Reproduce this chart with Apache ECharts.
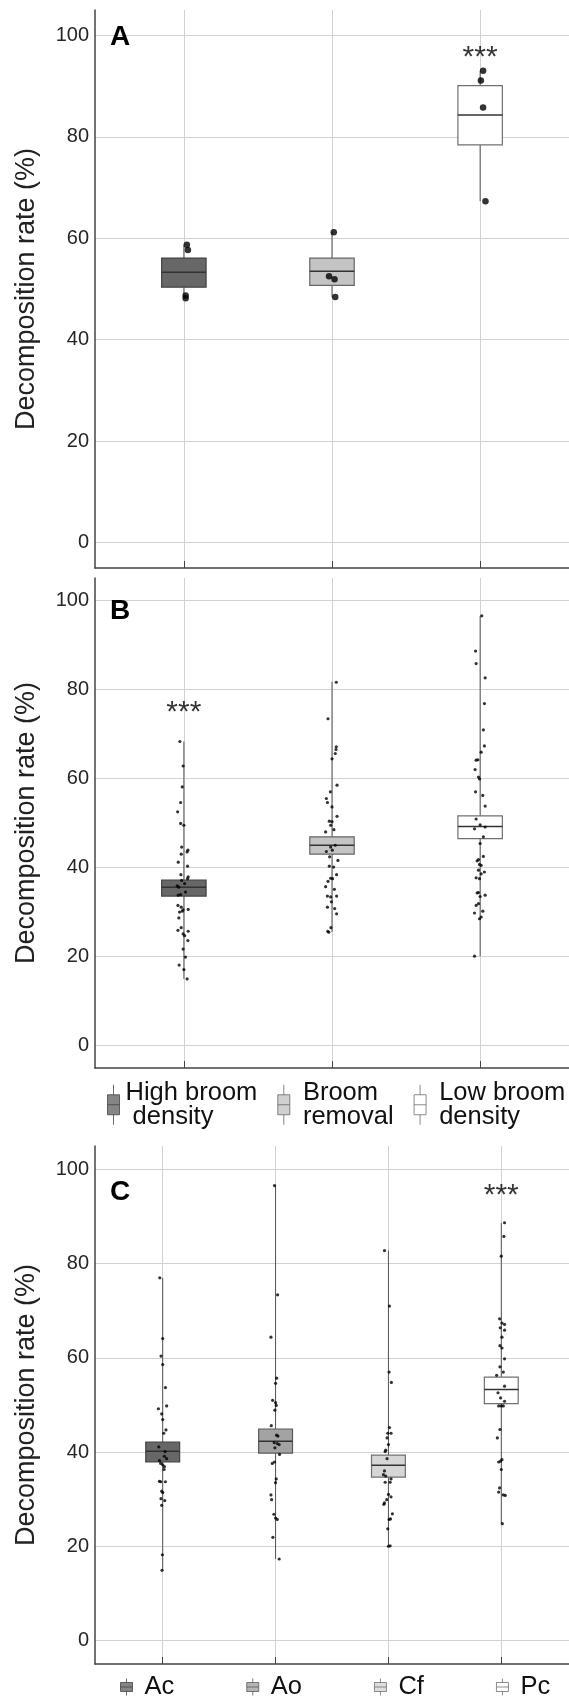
<!DOCTYPE html>
<html>
<head>
<meta charset="utf-8">
<script src="https://cdn.jsdelivr.net/npm/echarts@6/dist/echarts.min.js"></script>
<style>
html,body{margin:0;padding:0;background:#fff;}
#chart{width:569px;height:1699px;}
</style>
</head>
<body>
<div id="chart"></div>
<script>
// ---------- DATA ----------
const treatments = ['High broom density', 'Broom removal', 'Low broom density'];
const species = ['Ac', 'Ao', 'Cf', 'Pc'];
const yTicks = [0, 20, 40, 60, 80, 100];

// box stats: [x, min, Q1, median, Q3, max]
const boxesA = [
  [1, 48.2, 50.35, 53.3, 56.1, 58.7],
  [2, 48.4, 50.7, 53.5, 56.1, 61.2],
  [3, 67.3, 78.4, 84.3, 90.1, 93.0]
];
const boxesB = [
  [1, 15.0, 33.6, 35.55, 37.2, 68.3],
  [2, 25.5, 43.0, 45.0, 46.9, 81.7],
  [3, 20.1, 46.5, 49.2, 51.6, 96.5]
];
const boxesC = [
  [1, 14.9, 37.9, 40.2, 42.1, 77.0],
  [2, 17.3, 39.8, 42.3, 44.9, 96.6],
  [3, 20.0, 34.7, 37.2, 39.35, 82.8],
  [4, 24.8, 50.3, 53.3, 55.9, 88.7]
];

// individual points [x (with jitter), value]
const ptsA1 = [[1.020,58.7],[1.027,57.7],[1.012,48.7],[1.012,48.2]];
const ptsA2 = [[2.012,61.2],[1.980,52.5],[2.017,51.9],[2.022,48.4]];
const ptsA3 = [[3.020,93.0],[3.005,91.1],[3.020,85.8],[3.036,67.3]];

const ptsB1 = [[0.973,68.3],[0.995,62.8],[0.989,58.1],[0.978,54.6],[0.958,52.5],[0.978,49.9],[1.000,49.5],[0.985,44.6],[1.027,43.9],[1.022,43.5],[0.982,43.0],[0.962,41.2],[1.025,40.3],[0.980,38.4],[1.029,37.9],[1.025,37.5],[0.985,37.1],[1.005,36.4],[0.955,35.9],[0.966,35.6],[1.011,34.5],[0.962,33.8],[0.978,33.9],[0.960,31.5],[0.982,31.1],[0.995,30.5],[1.029,30.6],[0.971,30.0],[0.989,30.2],[0.966,28.7],[0.982,26.5],[0.960,25.9],[1.029,25.7],[0.995,25.1],[1.005,24.7],[1.027,23.6],[0.995,21.7],[1.011,19.9],[0.968,18.1],[1.000,17.1],[1.022,15.0]];
const ptsB2 = [[2.029,81.6],[1.973,73.4],[2.029,67.1],[2.027,66.5],[2.022,65.6],[2.000,64.4],[2.034,58.5],[1.989,57.0],[1.962,55.5],[1.969,54.6],[2.000,53.6],[2.034,51.5],[1.982,50.4],[2.000,50.3],[1.991,49.5],[2.013,48.5],[1.957,48.0],[1.991,44.6],[2.022,45.0],[1.962,43.6],[2.002,43.9],[1.984,42.4],[2.040,41.6],[1.982,40.3],[2.011,40.1],[2.031,38.4],[1.991,37.6],[2.004,37.5],[1.973,36.9],[1.957,35.7],[2.016,35.1],[1.969,33.6],[1.991,33.4],[2.031,33.6],[1.996,32.3],[1.969,31.1],[2.018,30.8],[2.031,29.6],[1.993,26.5],[1.978,25.5],[1.971,25.7]];
const ptsB3 = [[3.011,96.5],[2.969,88.6],[2.973,85.8],[3.034,82.6],[3.029,76.8],[3.022,70.9],[3.029,67.3],[3.007,65.9],[2.973,64.1],[2.985,64.2],[2.966,62.0],[2.989,60.3],[2.996,59.9],[2.969,57.0],[3.018,56.2],[3.034,53.8],[2.973,50.9],[3.000,49.6],[2.962,48.7],[3.034,49.1],[3.022,46.9],[3.000,45.4],[3.022,42.5],[2.989,41.8],[2.980,41.5],[2.996,40.7],[3.007,40.5],[2.989,39.4],[3.029,39.0],[3.007,38.6],[2.973,37.7],[2.996,37.5],[2.980,34.3],[2.989,34.4],[3.034,33.8],[3.000,33.5],[2.973,31.5],[2.989,31.9],[3.018,30.2],[2.962,29.8],[3.007,28.9],[2.996,28.5],[2.962,20.1]];

const ptsAc = [[0.974,77.0],[1.000,64.1],[0.985,60.4],[1.000,58.6],[1.024,53.7],[0.962,49.2],[1.035,49.8],[0.991,48.1],[1.000,46.9],[1.029,44.7],[1.009,44.0],[0.965,41.1],[1.021,40.1],[1.015,39.1],[1.035,38.6],[0.971,38.2],[0.982,37.6],[1.000,37.3],[1.015,36.9],[1.012,36.3],[0.971,33.8],[0.982,33.7],[1.024,33.7],[0.991,31.7],[1.000,31.4],[0.985,30.1],[1.018,29.7],[0.991,28.7],[0.997,18.2],[0.994,14.9]];
const ptsAo = [[1.991,96.6],[2.018,73.4],[1.959,64.4],[2.009,55.7],[2.000,54.6],[1.974,51.0],[2.000,50.5],[2.006,49.9],[1.994,48.9],[1.962,45.6],[2.009,43.6],[2.021,43.4],[1.988,42.0],[2.015,41.8],[2.032,41.6],[1.994,40.9],[2.035,39.5],[1.971,37.6],[1.991,37.9],[2.006,34.3],[2.000,33.5],[1.959,30.9],[1.965,29.9],[1.985,26.8],[2.000,26.0],[2.015,25.7],[1.976,21.9],[2.032,17.3]];
const ptsCf = [[2.965,82.8],[3.009,71.0],[3.006,57.0],[3.026,54.8],[3.009,45.2],[2.994,44.0],[3.023,44.0],[2.988,43.0],[3.000,41.6],[2.976,40.4],[2.971,40.1],[2.988,38.6],[2.965,36.0],[2.956,35.2],[2.976,34.9],[3.023,34.3],[2.971,33.6],[3.015,33.6],[3.000,31.0],[3.023,30.5],[2.985,29.9],[2.965,29.2],[2.959,28.9],[3.035,26.9],[3.006,25.7],[3.018,25.8],[2.994,23.7],[3.000,20.0],[3.015,20.1]];
const ptsPc = [[4.029,88.7],[4.023,85.8],[4.000,81.6],[3.985,68.3],[4.006,67.4],[4.029,67.1],[3.991,66.4],[4.029,65.9],[4.006,64.4],[3.988,62.6],[4.006,62.1],[4.029,59.8],[3.988,58.1],[4.018,57.0],[3.959,56.3],[4.029,54.0],[3.971,52.6],[3.994,51.5],[4.029,50.8],[3.977,49.8],[4.018,49.8],[4.000,49.8],[3.988,44.8],[3.965,43.0],[4.006,38.4],[3.977,37.9],[3.994,38.1],[4.000,36.3],[3.985,32.4],[3.977,31.5],[4.018,30.9],[4.035,30.8],[4.009,24.8]];

// significance marks [x, y]
const sigA = [[3, 95.6]];
const sigB = [[1, 74.7]];
const sigC = [[4, 94.4]];

// ---------- STYLES ----------
const FONT = 'Liberation Sans, Arial, Helvetica, sans-serif';
const fillsABC = ['#676767', '#c4c4c4', '#ffffff'];
const bordersABC = ['#444444', '#666666', '#707070'];
const fillsSp = ['#676767', '#a3a3a3', '#d6d6d6', '#ffffff'];
const bordersSp = ['#444444', '#5a5a5a', '#707070', '#707070'];

const grids = [
  {left: 95, width: 476, top: 10, height: 558},
  {left: 95, width: 476, top: 578, height: 490},
  {left: 95, width: 476, top: 1146, height: 518}
];

function xAxisFor(gi, n) {
  const ticks = [];
  for (let i = 1; i <= n; i++) ticks.push(i);
  return {
    type: 'value', gridIndex: gi, min: 0.4, max: n + 0.6,
    axisLine: {show: true, onZero: false, lineStyle: {color: '#444', width: 1.5}},
    axisTick: {show: true, inside: true, length: 7, customValues: ticks, lineStyle: {color: '#444'}},
    axisLabel: {show: false, customValues: ticks},
    splitLine: {show: true, lineStyle: {color: '#d2d2d2', width: 1}}
  };
}
function yAxisFor(gi) {
  return {
    type: 'value', gridIndex: gi, min: -5, max: 105,
    name: 'Decomposition rate (%)', nameLocation: 'middle', nameGap: 55,
    nameTextStyle: {fontSize: 27, color: '#222', fontFamily: FONT},
    axisLine: {show: true, onZero: false, lineStyle: {color: '#444', width: 1.5}},
    axisTick: {show: false, customValues: yTicks},
    axisLabel: {show: true, customValues: yTicks, fontSize: 20, color: '#262626', fontFamily: FONT, margin: 6},
    splitLine: {show: true, lineStyle: {color: '#d2d2d2', width: 1}}
  };
}

function boxSeries(gi, data, fills, borders, widthUnits) {
  return {
    type: 'custom', xAxisIndex: gi, yAxisIndex: gi, z: 3, silent: true,
    encode: {x: 0, y: [1, 2, 3, 4, 5]},
    data: data,
    renderItem: function (params, api) {
      const x = api.value(0);
      const pMin = api.coord([x, api.value(1)]);
      const pQ1 = api.coord([x, api.value(2)]);
      const pMed = api.coord([x, api.value(3)]);
      const pQ3 = api.coord([x, api.value(4)]);
      const pMax = api.coord([x, api.value(5)]);
      const w = api.size([widthUnits, 0])[0];
      const i = params.dataIndex;
      return {
        type: 'group',
        children: [
          {type: 'line', shape: {x1: pQ1[0], y1: pQ1[1], x2: pMin[0], y2: pMin[1]}, style: {stroke: '#555', lineWidth: 1}},
          {type: 'line', shape: {x1: pQ3[0], y1: pQ3[1], x2: pMax[0], y2: pMax[1]}, style: {stroke: '#555', lineWidth: 1}},
          {type: 'rect', shape: {x: pQ3[0] - w / 2, y: pQ3[1], width: w, height: pQ1[1] - pQ3[1]},
            style: {fill: fills[i], stroke: borders[i], lineWidth: 1.2}},
          {type: 'line', shape: {x1: pMed[0] - w / 2, y1: pMed[1], x2: pMed[0] + w / 2, y2: pMed[1]},
            style: {stroke: '#333', lineWidth: 1.5}}
        ]
      };
    }
  };
}
function ptSeries(gi, name, data, size) {
  return {
    type: 'scatter', name: name, xAxisIndex: gi, yAxisIndex: gi, z: 5, silent: true,
    symbolSize: size, itemStyle: {color: '#000'}, data: data
  };
}
function sigSeries(gi, data) {
  return {
    type: 'scatter', xAxisIndex: gi, yAxisIndex: gi, z: 6, silent: true,
    symbolSize: 1, itemStyle: {color: 'rgba(0,0,0,0)'}, data: data,
    label: {show: true, position: 'inside', formatter: '***', fontSize: 30, color: '#000', fontFamily: FONT}
  };
}

const iconBig = 'path://M1 10 L13 10 L13 30 L1 30 Z M1 20 L13 20 M7 0 L7 10 M7 30 L7 40';
const iconSmall = 'path://M1 4 L13 4 L13 13 L1 13 Z M1 8.5 L13 8.5 M7 0 L7 4 M7 13 L7 17';
const legendLabels = {
  'High broom density': 'High broom\n density',
  'Broom removal': ' Broom\n removal',
  'Low broom density': ' Low broom\n density'
};

const option = {
  backgroundColor: '#ffffff',
  animation: false,
  grid: grids,
  xAxis: [xAxisFor(0, 3), xAxisFor(1, 3), xAxisFor(2, 4)],
  yAxis: [yAxisFor(0), yAxisFor(1), yAxisFor(2)],
  title: [
    {text: 'A', left: 110, top: 23, padding: 0, textStyle: {fontSize: 28, fontWeight: 'bold', color: '#000', fontFamily: FONT}},
    {text: 'B', left: 110, top: 597, padding: 0, textStyle: {fontSize: 28, fontWeight: 'bold', color: '#000', fontFamily: FONT}},
    {text: 'C', left: 110, top: 1178, padding: 0, textStyle: {fontSize: 28, fontWeight: 'bold', color: '#000', fontFamily: FONT}}
  ],
  legend: [
    {
      left: 107, top: 1080, padding: 0, itemGap: 20, itemWidth: 14, itemHeight: 40,
      selectedMode: false,
      textStyle: {fontSize: 25.5, lineHeight: 23.5, color: '#111', fontFamily: FONT},
      formatter: function (n) { return legendLabels[n] || n; },
      data: treatments.map(function (t, i) {
        return {name: t, icon: iconBig, itemStyle: {color: fillsABC[i], borderColor: bordersABC[i], borderWidth: 1}};
      })
    },
    {
      left: 120, top: 1674, padding: 0, itemGap: 72, itemWidth: 14, itemHeight: 17,
      selectedMode: false,
      textStyle: {fontSize: 25.5, color: '#111', fontFamily: FONT, padding: [0, 0, 0, 6]},
      data: species.map(function (s, i) {
        return {name: s, icon: iconSmall, itemStyle: {color: fillsSp[i], borderColor: bordersSp[i], borderWidth: 1}};
      })
    }
  ],
  series: [
    boxSeries(0, boxesA, fillsABC, bordersABC, 0.3),
    ptSeries(0, treatments[0], ptsA1, 6.5),
    ptSeries(0, treatments[1], ptsA2, 6.5),
    ptSeries(0, treatments[2], ptsA3, 6.5),
    sigSeries(0, sigA),
    boxSeries(1, boxesB, fillsABC, bordersABC, 0.3),
    ptSeries(1, treatments[0], ptsB1, 3.2),
    ptSeries(1, treatments[1], ptsB2, 3.2),
    ptSeries(1, treatments[2], ptsB3, 3.2),
    sigSeries(1, sigB),
    boxSeries(2, boxesC, fillsSp, bordersSp, 0.3),
    ptSeries(2, species[0], ptsAc, 3.2),
    ptSeries(2, species[1], ptsAo, 3.2),
    ptSeries(2, species[2], ptsCf, 3.2),
    ptSeries(2, species[3], ptsPc, 3.2),
    sigSeries(2, sigC)
  ]
};

const chart = echarts.init(document.getElementById('chart'), null, {renderer: 'canvas'});
chart.setOption(option);
</script>
</body>
</html>
